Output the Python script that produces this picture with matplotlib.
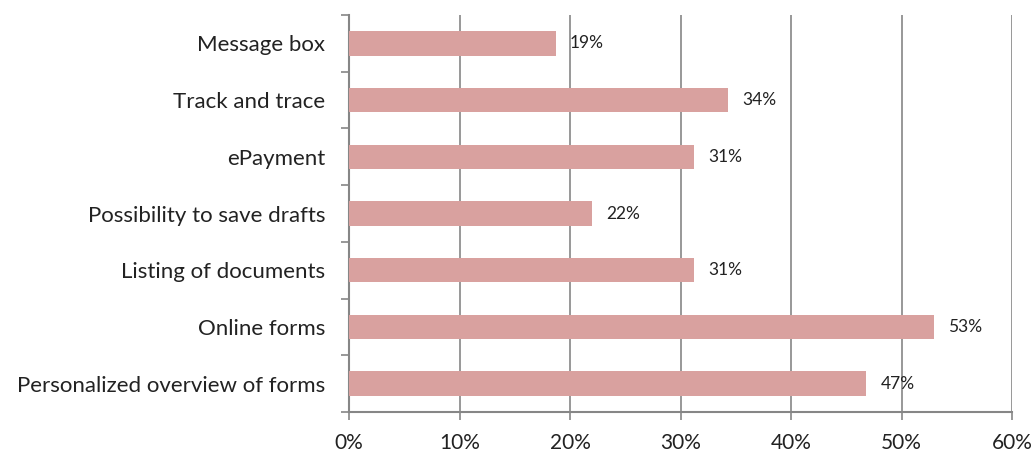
import matplotlib.pyplot as plt
import numpy as np

categories = ['Message box', 'Track and trace', 'ePayment', 'Possibility to save drafts',
              'Listing of documents', 'Online forms', 'Personalized overview of forms']
values = [18.7, 34.3, 31.2, 22.0, 31.2, 52.9, 46.8]
labels = ['19%', '34%', '31%', '22%', '31%', '53%', '47%']
xticks = [0, 10, 20, 30, 40, 50, 60]

plt.rcParams['font.family'] = ['Lato', 'DejaVu Sans']
grey = '#868686'

fig = plt.figure(figsize=(10.34, 4.66), dpi=100)
ax = fig.add_axes([349/1034, 1-412/466, (1012-349)/1034, (412-15)/466])

y = np.arange(len(categories))[::-1]
ax.barh(y, values, height=0.43, color='#D9A19F', zorder=3)
for yi, v, lab in zip(y, values, labels):
  ax.text(v + 1.3, yi, lab, va='center', ha='left', fontsize=12.5, color='#222222', zorder=4)

ax.set_xlim(0, 60)
ax.set_ylim(-0.5, len(categories) - 0.5)
ax.set_xticks(xticks)
ax.set_xticklabels([f'{t}%' for t in xticks], fontsize=15, color='#222222')
ax.set_yticks(y)
ax.set_yticklabels(categories, fontsize=16, color='#222222')
ax.set_yticks(np.arange(-0.5, len(categories)), minor=True)
ax.tick_params(axis='y', which='major', length=0, pad=17)
ax.tick_params(axis='y', which='minor', length=6, color=grey, width=1.2)
ax.tick_params(axis='x', length=6, color=grey, width=1.2, pad=9)
ax.grid(axis='x', color=grey, linewidth=1.2, zorder=1)

for s in ['top', 'right']:
  ax.spines[s].set_visible(False)
for s in ['left', 'bottom']:
  ax.spines[s].set_color(grey)
  ax.spines[s].set_linewidth(1.5)

fig.savefig('out.png', dpi=100)
